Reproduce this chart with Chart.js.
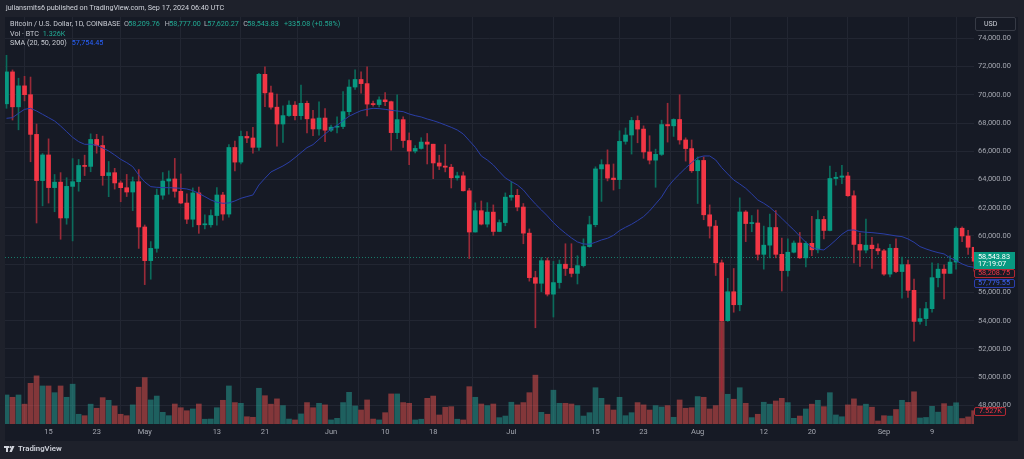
<!DOCTYPE html>
<html>
<head>
<meta charset="utf-8">
<script src="https://cdn.jsdelivr.net/npm/chart.js@4.4.1/dist/chart.umd.min.js"></script>
<style>
  html, body { margin: 0; padding: 0; background: #1e212b; }
  #wrap { width: 1024px; height: 459px; }
</style>
</head>
<body>
<div id="wrap"><canvas id="btcChart" width="1024" height="459"></canvas></div>
<script>
// BTC/USD daily, Coinbase, 8 Apr 2024 (index 0) .. 17 Sep 2024 (index 162)
const openP = [69360,71620,69146,70631,70007,67195,63924,65738,63426,63811,61276,63512,63843,64994,64927,66837,66408,64276,64482,63756,
  63419,63113,63842,60636,58254,59123,62889,63892,64038,63162,62334,61187,63049,60792,60793,61448,62901,61552,66267,65231,
  67051,66940,66278,71448,70136,69122,67929,68526,69265,68518,69394,68296,67578,68352,67491,67706,67751,68805,70548,71083,
  70790,69340,69305,69640,69510,67320,68240,66760,66010,66200,66650,66500,65170,64950,64870,64120,64260,63200,60280,61790,
  60840,61690,60320,60950,62750,62880,62050,60200,57050,56650,58250,55880,56700,58000,57700,57350,57900,59250,60800,64750,
  65050,64100,63990,66700,67150,68180,67570,65950,65370,65780,67890,67800,68250,66800,66190,64620,65350,61500,60700,58100,
  54000,56050,55130,61700,60880,60920,58700,59350,60600,58700,57550,58850,59500,58450,59480,59020,61170,60390,64070,64160,
  64250,62850,59400,59000,59350,59100,58950,57300,59130,57480,57970,56150,53950,54150,54850,57050,57650,57350,58150,60550,
  60000,59200,58209.76];
const highP = [72797,71758,71172,71305,71256,67931,65840,66878,64355,64486,64125,65481,65419,65723,67233,67199,67075,65275,64789,63898,
  64360,64174,64703,60780,59602,63320,64494,64610,65494,64390,62986,63404,63466,61490,61851,63423,63092,66473,66720,67427,
  67400,67700,71515,71980,70623,70041,69220,69563,69512,70687,69560,68900,69500,69020,67860,68440,70230,71050,71760,71625,
  71980,69560,69860,70160,69550,69990,68440,67300,66400,66960,67260,66500,65720,66480,65070,64520,64530,63370,62350,62480,
  62360,62200,61140,63050,63840,63300,62300,60500,57500,58480,58450,58200,58300,59450,59450,58600,59800,61400,64900,65400,
  66100,65100,67450,67650,68400,68500,67800,67100,66150,68200,69400,68300,70000,66950,66800,65600,65600,62200,61100,58300,
  57000,57700,62700,61800,61450,61850,60700,61550,61800,59850,59800,59650,60250,59600,61400,61800,61400,64950,64500,65000,
  64500,63200,60200,61200,59900,59450,59050,59400,59800,58500,58300,56950,54850,55300,58100,58050,57950,58600,60650,60650,
  60400,59200,58777];
const lowP = [69043,68210,67518,69567,65254,60919,62134,62332,61716,59768,60833,59651,63172,64277,64548,65864,63589,62783,63322,62424,
  62793,61795,59120,56555,56937,58848,62599,62955,62746,62285,60877,60648,60187,60492,60632,60769,61123,61330,64602,65106,
  66600,65858,66060,69162,68977,66356,66622,68460,68213,68260,67300,67101,67132,66670,67380,67300,67600,68560,70381,70120,
  68500,69200,69133,69220,66070,66900,66270,65050,65880,66150,65100,64060,64700,64540,63400,63950,63180,58400,60270,60780,
  60630,60040,60300,60720,62530,61780,59450,56800,53500,56050,55750,54260,56300,57200,57100,56600,57800,59200,60650,62450,
  63900,63250,63350,66500,65800,66600,65500,65100,63450,65700,66650,67050,66500,65300,64500,62300,61150,59850,57200,49000,
  53950,54600,54700,59600,60300,58300,57650,58450,58450,56100,57150,58800,58400,57800,58600,58800,59800,60350,63600,63700,
  62800,58100,57850,58800,57700,58700,57200,57100,57400,55600,55650,52550,53750,53650,54600,56400,55550,57350,57650,59600,
  58700,57500,57620.27];
const closeP = [71620,69146,70631,70007,67195,63924,65738,63426,63811,61276,63512,63843,64994,64927,66837,66408,64276,64482,63756,63419,
  63113,63842,60636,58254,59123,62889,63892,64038,63162,62334,61187,63049,60792,60793,61448,62901,61552,66267,65231,67051,
  66940,66278,71448,70136,69122,67929,68526,69265,68518,69394,68296,67578,68352,67491,67706,67751,68805,70548,71083,70790,
  69340,69305,69640,69510,67320,68240,66760,66010,66200,66650,66500,65170,64950,64870,64120,64260,63200,60280,61790,60840,
  61690,60320,60950,62750,62880,62050,60200,57050,56650,58250,55880,56700,58000,57700,57350,57900,59250,60800,64750,65050,
  64100,63990,66700,67150,68180,67570,65950,65370,65780,67890,67800,68250,66800,66190,64620,65350,61500,60700,58100,54000,
  56050,55130,61700,60880,60920,58700,59350,60600,58700,57550,58850,59500,58450,59480,59020,61170,60390,64070,64160,64250,
  62850,59400,59000,59350,59100,58950,57300,59130,57480,57970,56150,53950,54150,54850,57050,57650,57350,58150,60550,60000,
  59200,58208.75,58543.83];
// volume, thousands of BTC
const volK = [16.4,15.1,16.4,11.2,23.0,27.2,21.5,21.5,17.7,21.5,15.1,22.5,5.5,4.7,11.2,8.9,14.9,13.4,10.2,5.5,
  4.7,10.8,20.8,26.2,13.6,15.8,6.6,4.7,11.3,9.2,7.5,8.5,11.3,2.7,2.8,9.2,13.4,21.5,12.1,11.7,
  4.1,3.8,20.2,16.0,11.2,14.2,10.4,2.8,2.3,5.7,12.1,9.2,11.7,10.8,2.3,3.2,12.1,17.9,10.2,7.9,
  13.6,2.8,2.3,6.4,17.0,17.0,12.1,11.7,2.3,2.7,14.5,15.8,5.1,9.5,9.8,2.7,2.3,21.1,15.1,11.3,
  10.4,11.3,3.6,4.5,12.3,10.8,12.1,17.7,27.6,6.6,5.5,19.1,11.7,11.7,11.3,10.4,4.5,6.4,20.5,14.5,
  10.8,7.9,15.1,4.7,6.4,12.1,10.8,7.9,10.4,9.6,10.4,3.8,13.6,8.9,9.2,15.5,15.1,8.5,10.4,57.9,
  16.8,14.0,20.5,11.7,3.6,5.5,12.3,11.2,13.0,14.5,12.1,3.2,4.5,8.5,11.2,13.4,9.8,17.7,5.1,4.1,
  10.8,14.2,10.2,11.2,9.5,1.7,4.7,4.5,8.2,13.4,12.2,18.2,3.4,3.7,10.0,6.7,11.5,10.0,12.0,3.1,
  4.0,7.527,1.326];
const sma20 = [68333,68380,68687,68970,69041,68852,68616,68380,68144,67790,67389,66988,66681,66492,66492,66421,66233,66020,65737,65430,
  65194,64911,64321,63826,63495,63448,63424,63424,63401,63377,63330,63212,63023,62787,62551,62386,62315,62339,62480,62669,
  62790,62905,63613,64085,64533,64746,64958,65218,65548,65902,66256,66469,66846,67224,67554,67838,68168,68475,68687,68876,
  68970,69041,69017,68970,68899,68852,68805,68640,68522,68428,68286,68168,68026,67861,67696,67507,67224,66752,66280,65666,
  65380,65029,64557,64109,63849,63613,63259,62740,62268,61843,61418,60946,60545,60191,59861,59578,59436,59412,59554,59719,
  59837,60049,60380,60616,60828,61088,61371,61772,62268,62763,63448,63967,64392,64817,65194,65548,65666,65666,65383,64840,
  64392,63967,63684,63377,62976,62551,62315,62032,61654,61253,60828,60427,59979,59554,59176,59058,59011,59341,59719,60120,
  60403,60427,60309,60262,60238,60191,60144,60073,60002,59955,59790,59554,59247,59082,58940,58822,58728,58450,58256,58020,
  57850,57780,57754];

const tickDay = [7, 15, 23, 35, 43, 54, 63, 71, 84, 98, 106, 115, 126, 134, 146, 154];
const tickText = ['15', '23', 'May', '13', '21', 'Jun', '10', '18', 'Jul', '15', '23', 'Aug', '12', '20', 'Sep', '9'];
const priceTicks = [48000, 50000, 52000, 54000, 56000, 58000, 60000, 62000, 64000, 66000, 68000, 70000, 72000, 74000];

// theme
const FRAME = '#1e212b';
const PANE = '#161a25';
const GRID = '#222632';
const AXIS_TXT = '#a3a6af';
const UP = '#089981', DOWN = '#f23645';
const UP_WICK = '#0b6b5b', DOWN_WICK = '#9a2a38';
const VOL_UP = 'rgba(38,166,154,0.5)', VOL_DOWN = 'rgba(239,83,80,0.5)';
const SMA_COL = '#2a3ea6';
const FONT = 'Roboto, "Liberation Sans", sans-serif';

const idx = closeP.map((_, i) => i);
const isUp = idx.map(i => closeP[i] >= openP[i]);
const last = closeP.length - 1;

const fmt = v => v.toLocaleString('en-US', { minimumFractionDigits: 2, maximumFractionDigits: 2 });

function txt(ctx, s, x, y, color, font, align) {
    ctx.fillStyle = color;
    ctx.font = font;
    ctx.textAlign = align || 'left';
    ctx.textBaseline = 'middle';
    ctx.fillText(s, x, y);
}

function box(ctx, x, y, w, h, fill, stroke) {
    ctx.beginPath();
    ctx.roundRect(x + 0.5, y + 0.5, w, h, 1.5);
    if (fill) { ctx.fillStyle = fill; ctx.fill(); }
    if (stroke) { ctx.strokeStyle = stroke; ctx.lineWidth = 1; ctx.stroke(); }
}

const tvDecor = {
    id: 'tvDecor',
    beforeDraw(chart) {
        const ctx = chart.ctx;
        ctx.save();
        ctx.fillStyle = FRAME;
        ctx.fillRect(0, 0, chart.width, chart.height);
        ctx.fillStyle = PANE;
        ctx.fillRect(5, 17, 1013, 424);
        ctx.restore();
    },
    beforeDatasetsDraw(chart) {
        // dotted line at the last price
        const ctx = chart.ctx, a = chart.chartArea;
        const y = Math.round(chart.scales.y.getPixelForValue(closeP[last])) + 0.5;
        ctx.save();
        ctx.strokeStyle = '#177a69';
        ctx.lineWidth = 1;
        ctx.setLineDash([1, 2]);
        ctx.beginPath();
        ctx.moveTo(a.left, y);
        ctx.lineTo(a.right, y);
        ctx.stroke();
        ctx.restore();
    },
    afterDraw(chart) {
        const ctx = chart.ctx;
        const ys = chart.scales.y, yv = chart.scales.yVol;
        ctx.save();

        // header line
        txt(ctx, 'juliansmits6 published on TradingView.com, Sep 17, 2024 06:40 UTC', 6, 8.5, '#d1d4dc', '7.2px ' + FONT);

        // legend
        const f = '7.2px ' + FONT;
        const teal = '#22ab94', grey = '#b2b5be';
        txt(ctx, 'Bitcoin / U.S. Dollar, 1D, COINBASE', 10, 24.3, '#c9ccd4', f);
        txt(ctx, 'O', 124, 24.3, grey, f);   txt(ctx, fmt(openP[last]), 128.3, 24.3, teal, f);
        txt(ctx, 'H', 164.7, 24.3, grey, f); txt(ctx, fmt(highP[last]), 169.3, 24.3, teal, f);
        txt(ctx, 'L', 204, 24.3, grey, f);   txt(ctx, fmt(lowP[last]), 207.3, 24.3, teal, f);
        txt(ctx, 'C', 243.3, 24.3, grey, f); txt(ctx, fmt(closeP[last]), 247.3, 24.3, teal, f);
        txt(ctx, '+335.08 (+0.58%)', 284, 24.3, teal, f);
        txt(ctx, 'Vol · BTC', 10, 33.7, '#c9ccd4', f);
        txt(ctx, '1.326K', 42.7, 33.7, teal, f);
        txt(ctx, 'SMA (20, 50, 200)', 10, 42.7, '#c9ccd4', f);
        txt(ctx, '57,754.45', 71.7, 42.7, '#2962ff', f);

        // currency box
        box(ctx, 975, 17, 40, 13, null, '#363a45');
        txt(ctx, 'USD', 984, 24, '#d1d4dc', '7px ' + FONT);

        // price labels on the axis
        const lf = '7.3px ' + FONT;
        const py = ys.getPixelForValue(closeP[last]);
        const gTop = Math.round(py - 5);
        ctx.fillStyle = UP;
        ctx.fillRect(974, gTop, 41, 17);
        txt(ctx, fmt(closeP[last]), 978, gTop + 5, '#ffffff', lf);
        txt(ctx, '17:19:07', 978, gTop + 12, '#ffffff', lf);
        box(ctx, 974, gTop + 17, 40, 8, PANE, '#b22833');
        txt(ctx, fmt(closeP[last - 1]), 978, gTop + 21.5, '#f23645', lf);
        box(ctx, 974, gTop + 27, 40, 8, PANE, '#2a3fb0');
        txt(ctx, '57,779.55', 978, gTop + 31.5, '#3d63f5', lf);

        // volume label
        const vy = Math.round(yv.getPixelForValue(volK[last - 1]));
        box(ctx, 974, vy - 4, 31, 8, PANE, '#b22833');
        txt(ctx, '7.527K', 979, vy + 0.5, '#f23645', lf);

        // bottom brand
        ctx.fillStyle = '#d1d4dc';
        ctx.fillRect(4, 446, 5, 2);
        ctx.fillRect(6, 446, 2, 6);
        ctx.beginPath();
        ctx.arc(10.5, 447.2, 1.1, 0, Math.PI * 2);
        ctx.fill();
        ctx.beginPath();
        ctx.moveTo(12, 446); ctx.lineTo(14.5, 446); ctx.lineTo(11.8, 452); ctx.lineTo(9.4, 452);
        ctx.closePath();
        ctx.fill();
        txt(ctx, 'TradingView', 18, 449.5, '#d1d4dc', '600 7.8px ' + FONT);

        ctx.restore();
    }
};

new Chart(document.getElementById('btcChart'), {
    type: 'bar',
    data: {
        datasets: [{
            label: 'Volume',
            yAxisID: 'yVol',
            data: idx.map(i => ({ x: i, y: volK[i] })),
            backgroundColor: idx.map(i => isUp[i] ? VOL_UP : VOL_DOWN),
            barThickness: 5,
            grouped: false,
            order: 4,
            clip: 0
        }, {
            label: 'Wick',
            yAxisID: 'y',
            data: idx.map(i => ({ x: i, y: [lowP[i], highP[i]] })),
            backgroundColor: idx.map(i => isUp[i] ? UP_WICK : DOWN_WICK),
            barThickness: 1,
            grouped: false,
            order: 3,
            clip: 0
        }, {
            label: 'Body',
            yAxisID: 'y',
            data: idx.map(i => ({ x: i, y: [Math.min(openP[i], closeP[i]), Math.max(openP[i], closeP[i])] })),
            backgroundColor: idx.map(i => isUp[i] ? UP : DOWN),
            barThickness: 4,
            minBarLength: 1,
            grouped: false,
            order: 2,
            clip: 0
        }, {
            type: 'line',
            label: 'SMA 20',
            yAxisID: 'y',
            data: idx.map(i => ({ x: i, y: sma20[i] })),
            borderColor: SMA_COL,
            borderWidth: 1,
            pointRadius: 0,
            tension: 0,
            order: 1,
            clip: 0
        }]
    },
    options: {
        responsive: false,
        animation: false,
        events: [],
        layout: { padding: { left: 5, right: 6, top: 17, bottom: 18 } },
        plugins: { legend: { display: false }, tooltip: { enabled: false } },
        scales: {
            x: {
                type: 'linear',
                min: -0.25,
                max: 160.98,
                offset: false,
                afterBuildTicks: s => { s.ticks = tickDay.map(v => ({ value: v })); },
                afterFit: s => { s.height = 17; },
                ticks: {
                    color: AXIS_TXT, font: { family: FONT, size: 7.5 }, padding: 4,
                    maxRotation: 0, autoSkip: false,
                    callback: (v, i) => tickText[i]
                },
                grid: { color: GRID, drawTicks: false },
                border: { display: false }
            },
            y: {
                position: 'right',
                min: 46684,
                max: 75508,
                afterBuildTicks: s => { s.ticks = priceTicks.map(v => ({ value: v })); },
                afterFit: s => { s.width = 44; },
                ticks: {
                    color: AXIS_TXT, font: { family: FONT, size: 7.5 }, padding: 4,
                    callback: v => fmt(v)
                },
                grid: { color: GRID, drawTicks: false },
                border: { display: false }
            },
            yVol: { display: false, min: 0, max: 230 }
        }
    },
    plugins: [tvDecor]
});
</script>
</body>
</html>
